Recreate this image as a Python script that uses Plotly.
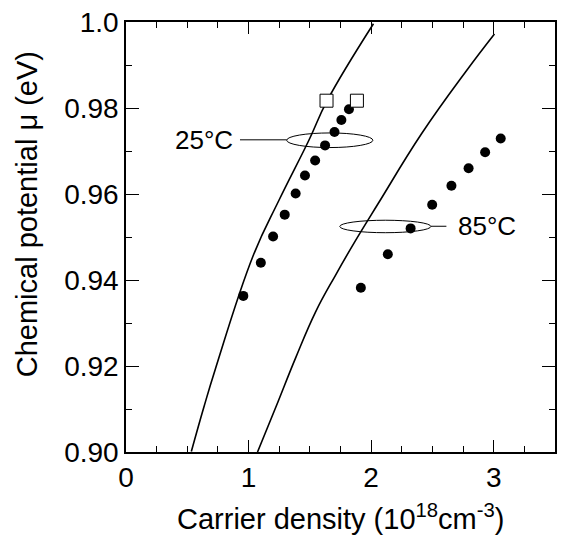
import plotly.graph_objects as go

# 25 C measured (filled circles)
n25 = [0.957, 1.100, 1.200, 1.295, 1.384, 1.460, 1.543, 1.624, 1.701, 1.757, 1.819]
mu25 = [0.9363, 0.9440, 0.9501, 0.9552, 0.9601, 0.9643, 0.9678, 0.9713, 0.9744, 0.9772, 0.9797]
# open squares
nsq = [1.636, 1.884]
musq = [0.9817, 0.9817]
# 85 C measured
n85 = [1.916, 2.136, 2.322, 2.498, 2.655, 2.795, 2.930, 3.057]
mu85 = [0.9382, 0.9460, 0.9520, 0.9575, 0.9619, 0.9660, 0.9697, 0.9729]
# calculated curves
cn25 = [0.533, 0.635, 0.728, 1.038, 1.249, 1.492, 1.641, 2.019]
cmu25 = [0.9001, 0.9104, 0.9192, 0.9457, 0.9586, 0.9725, 0.9817, 0.9996]
cn85 = [1.073, 1.222, 1.384, 1.547, 1.709, 1.871, 2.060, 2.411, 2.776, 3.006]
cmu85 = [0.9000, 0.9104, 0.9219, 0.9326, 0.9411, 0.9491, 0.9579, 0.9740, 0.9886, 0.9972]

xtickvals = [0, 1, 2, 3]
xticktext = ["0", "1", "2", "3"]
xhalfticks = [0.5, 1.5, 2.5, 3.5]
ytickvals = [0.90, 0.92, 0.94, 0.96, 0.98, 1.0]
yticktext = ["0.90", "0.92", "0.94", "0.96", "0.98", "1.0"]

FONT = "Liberation Sans, Arial, Helvetica, sans-serif"

fig = go.Figure()
fig.add_trace(go.Scatter(x=cn25, y=cmu25, mode="lines", line=dict(color="black", width=1.6, shape="spline", smoothing=1.2), hoverinfo="skip"))
fig.add_trace(go.Scatter(x=cn85, y=cmu85, mode="lines", line=dict(color="black", width=1.6, shape="spline", smoothing=1.2), hoverinfo="skip"))
fig.add_trace(go.Scatter(x=n25, y=mu25, mode="markers", marker=dict(symbol="circle", size=10, color="black")))
fig.add_trace(go.Scatter(x=n85, y=mu85, mode="markers", marker=dict(symbol="circle", size=10, color="black")))
fig.add_trace(go.Scatter(x=nsq, y=musq, mode="markers", marker=dict(symbol="square", size=13, color="white", line=dict(color="black", width=1))))

# ellipses and leader lines
shapes = [
    dict(type="circle", xref="x", yref="y", x0=1.311, x1=2.014, y0=0.9708, y1=0.9742, line=dict(color="black", width=1)),
    dict(type="line", xref="x", yref="y", x0=0.93, x1=1.311, y0=0.9726, y1=0.9726, line=dict(color="black", width=1)),
    dict(type="circle", xref="x", yref="y", x0=1.744, x1=2.487, y0=0.9510, y1=0.9539, line=dict(color="black", width=1)),
    dict(type="line", xref="x", yref="y", x0=2.487, x1=2.614, y0=0.9525, y1=0.9525, line=dict(color="black", width=1)),
]

annotations = [
    dict(x=0.892, y=0.9726, xref="x", yref="y", text="25°C", showarrow=False, xanchor="right", yanchor="middle",
         font=dict(family=FONT, size=26, color="black")),
    dict(x=2.695, y=0.9525, xref="x", yref="y", text="85°C", showarrow=False, xanchor="left", yanchor="middle",
         font=dict(family=FONT, size=26, color="black")),
    dict(x=0.5, y=-0.152, xref="paper", yref="paper", text="Carrier density (10<sup>18</sup>cm<sup>-3</sup>)",
         showarrow=False, xanchor="center", yanchor="middle", font=dict(family=FONT, size=29, color="black")),
    dict(x=-0.232, y=0.554, xref="paper", yref="paper", text="Chemical potential μ (eV)", textangle=-90,
         showarrow=False, xanchor="center", yanchor="middle", font=dict(family=FONT, size=29, color="black")),
]

axis_common = dict(showgrid=False, zeroline=False, showline=True, linecolor="black", linewidth=1.5,
                   mirror="allticks", ticks="inside", tickcolor="black", tickwidth=1.2,
                   tickfont=dict(family=FONT, size=28, color="black"))

fig.update_layout(
    width=564, height=537,
    margin=dict(l=126, r=7, t=17, b=85),
    paper_bgcolor="white", plot_bgcolor="white",
    showlegend=False,
    shapes=shapes, annotations=annotations,
    xaxis=dict(range=[0, 3.5], tickmode="array", tickvals=xtickvals, ticktext=xticktext, ticklen=12,
               minor=dict(dtick=0.25, tick0=0, ticks="inside", ticklen=6, tickcolor="black", tickwidth=1.2),
               **axis_common),
    xaxis2=dict(range=[0, 3.5], overlaying="x", side="bottom", showgrid=False, zeroline=False,
                showline=True, linecolor="black", linewidth=1.5, mirror="allticks",
                tickmode="array", tickvals=xhalfticks, showticklabels=False,
                ticks="inside", ticklen=12, tickcolor="black", tickwidth=1.2),
    yaxis=dict(range=[0.90, 1.0], tickmode="array", tickvals=ytickvals, ticktext=yticktext, ticklen=13,
               minor=dict(dtick=0.01, tick0=0.9, ticks="inside", ticklen=6, tickcolor="black", tickwidth=1.2),
               **axis_common),
)

fig.write_html("out.html")
